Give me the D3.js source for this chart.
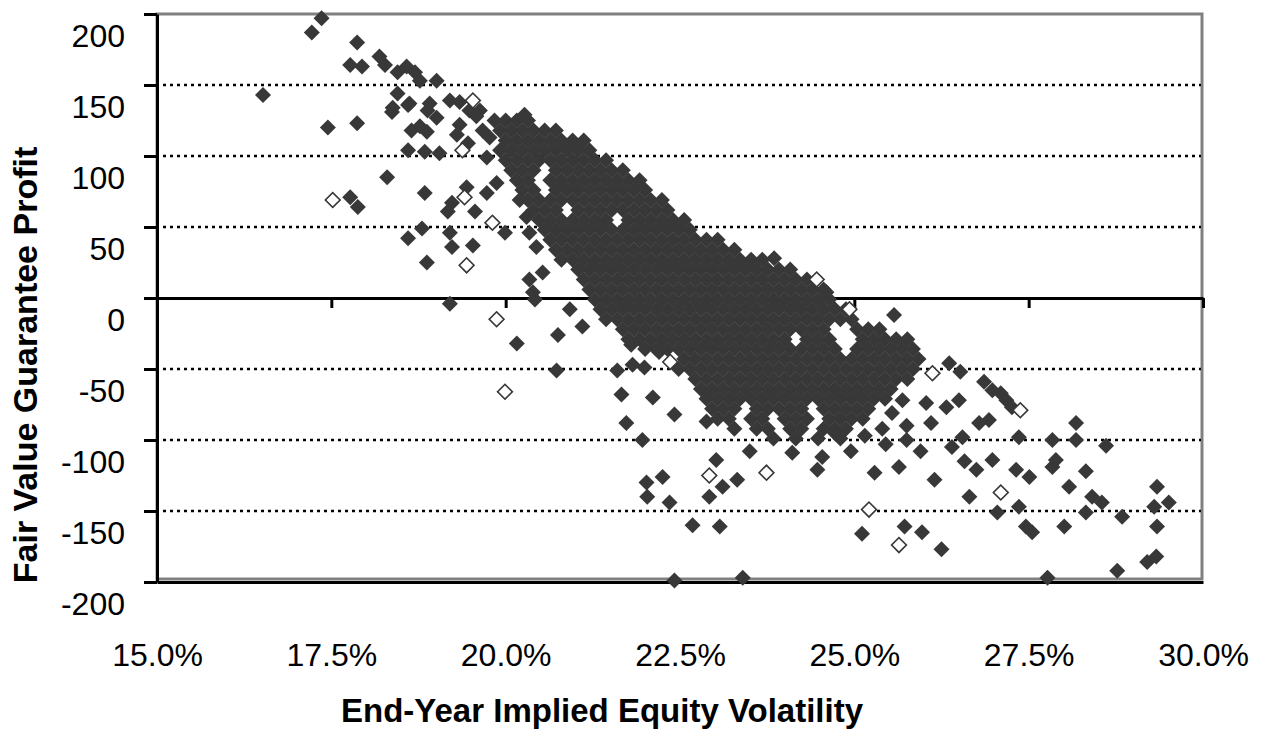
<!DOCTYPE html>
<html>
<head>
<meta charset="utf-8">
<script src="https://cdn.jsdelivr.net/npm/d3@7"></script>
<style>
  html, body { margin: 0; padding: 0; background: #fff; }
  svg { display: block; }
</style>
</head>
<body>
<div id="chart"></div>
<script>
// axis ticks
const xTicks = [15, 17.5, 20, 22.5, 25, 27.5, 30];
const yTicks = [200, 150, 100, 50, 0, -50, -100, -150, -200];
const gridValues = [150, 100, 50, -50, -100, -150];

// [volatility %, profit]: isolated filled diamonds
const filledPoints = [
  [16.52,143],[17.22,187],[17.36,197],[17.87,180],[17.77,164],[17.94,163],[18.19,170],[18.27,164],[18.45,159],[18.58,163],[18.70,159],[18.77,153],[19.01,153],
  [18.45,144],[18.38,134],[18.60,136],[18.37,131],[18.62,137],[18.91,137],[18.88,132],[19.01,127],[19.20,139],[19.34,138],[19.48,132],[19.63,132],[19.58,128],
  [17.45,120],[17.87,123],[18.65,118],[18.77,121],[18.87,117],[19.34,122],[19.30,115],[19.67,118],[19.77,113],[20.27,129],
  [18.60,104],[18.84,103],[19.05,102],[19.46,109],[19.73,99],
  [18.30,85],[17.77,71],[17.88,64],[18.84,74],[19.23,67],[19.17,61],[19.44,78],[19.56,61],[19.73,74],[19.87,81],[20.20,69],[20.30,57],
  [18.60,42],[18.80,49],[19.20,46],[19.23,36],[19.53,37],[19.99,46],[20.34,46],[20.44,36],[20.53,18],[20.34,13],[20.39,4],[20.42,-1],
  [18.87,25],[19.20,-4],[20.92,-8],[21.10,-20],[20.75,-26],[20.16,-32],[20.73,-51],
  [21.60,-51],[21.80,-33],[21.82,-47],[21.99,-49],[22.20,-38],[21.66,-68],[22.11,-70],[21.73,-88],[21.96,-100],[22.42,-82],[22.88,-87],
  [23.02,-114],[23.50,-108],[24.11,-109],[24.47,-121],[24.54,-112],[22.02,-130],[22.25,-126],[22.03,-140],[22.35,-144],[22.92,-140],[23.11,-133],[23.32,-128],
  [22.68,-160],[23.07,-161],[22.42,-199],[23.40,-197],
  [23.85,28],[24.60,4],[25.57,-12],
  [26.36,-46],[26.52,-52],[26.86,-59],[26.98,-65],[27.10,-67],[27.18,-72],[27.26,-77],
  [25.69,-72],[26.03,-74],[26.32,-77],[26.50,-72],[26.93,-86],[25.54,-81],[26.79,-88],
  [24.72,-95],[24.95,-108],[25.15,-97],[25.45,-103],[25.75,-100],[25.95,-108],[25.40,-92],[25.75,-90],[26.10,-88],
  [27.36,-98],[27.84,-100],[28.18,-88],[28.18,-100],[28.61,-104],[26.55,-98],[26.40,-105],[26.98,-114],[26.75,-121],[27.32,-121],[27.51,-126],[27.84,-119],[27.89,-114],[28.32,-122],
  [26.65,-140],[27.36,-147],[28.08,-133],[28.41,-140],[28.55,-144],[28.32,-151],[27.05,-151],[27.46,-161],[27.55,-165],[28.01,-161],[28.84,-154],
  [29.34,-133],[29.30,-147],[29.51,-144],[29.34,-161],[29.33,-182],[29.20,-186],[28.77,-192],[27.77,-197],
  [25.11,-166],[25.72,-161],[25.97,-165],[26.25,-177],[25.29,-123],[25.64,-119],[26.15,-128],[26.58,-115]
];

// hollow diamonds
const hollowPoints = [
  [17.52,69],[19.53,139],[19.38,104],[19.41,71],[19.81,53],[19.44,23],[19.87,-15],[19.99,-66],[22.36,-45],
  [22.92,-125],[23.74,-123],[24.46,13],[24.93,-8],[26.12,-53],[27.38,-79],[27.10,-137],[25.21,-149],[25.64,-174]
];

// the packed core of the cloud, read row by row: [profit, volatilities]
const denseRows = [
  [125, [19.84,20.00,20.16,20.32]],
  [118, [19.92,20.08,20.24,20.40,20.56,20.72]],
  [111, [20.00,20.16,20.32,20.48,20.64,20.80,20.96,21.12]],
  [104, [19.92,20.08,20.24,20.40,20.56,20.72,20.88,21.04,21.20]],
  [97,  [20.00,20.16,20.32,20.48,20.64,20.80,20.96,21.12,21.28,21.44]],
  [90,  [20.08,20.24,20.40,20.72,20.88,21.04,21.20,21.36,21.52,21.68]],
  [83,  [20.16,20.32,20.64,20.80,20.96,21.12,21.28,21.44,21.60,21.76,21.92]],
  [76,  [20.24,20.40,20.72,20.88,21.04,21.20,21.36,21.52,21.68,21.84,22.00]],
  [69,  [20.32,20.48,20.64,20.80,20.96,21.12,21.28,21.44,21.60,21.76,21.92,22.08,22.24]],
  [62,  [20.40,20.56,20.72,21.04,21.20,21.36,21.52,21.68,21.84,22.00,22.16,22.32]],
  [55,  [20.48,20.64,20.80,20.96,21.12,21.28,21.44,21.76,21.92,22.08,22.24,22.40,22.56]],
  [48,  [20.56,20.72,20.88,21.04,21.20,21.36,21.52,21.68,21.84,22.00,22.16,22.32,22.48,22.64]],
  [41,  [20.64,20.80,20.96,21.12,21.28,21.44,21.60,21.76,21.92,22.08,22.24,22.40,22.56,22.72,22.88,23.04]],
  [34,  [20.72,20.88,21.04,21.20,21.36,21.52,21.68,21.84,22.00,22.16,22.32,22.48,22.64,22.80,22.96,23.12,23.28]],
  [27,  [20.80,20.96,21.12,21.28,21.44,21.60,21.76,21.92,22.08,22.24,22.40,22.56,22.72,22.88,23.04,23.20,23.36,23.52,23.68]],
  [20,  [21.04,21.20,21.36,21.52,21.68,21.84,22.00,22.16,22.32,22.48,22.64,22.80,22.96,23.12,23.28,23.44,23.60,23.76,23.92,24.08]],
  [13,  [21.12,21.28,21.44,21.60,21.76,21.92,22.08,22.24,22.40,22.56,22.72,22.88,23.04,23.20,23.36,23.52,23.68,23.84,24.00,24.16,24.32]],
  [6,   [21.20,21.36,21.52,21.68,21.84,22.00,22.16,22.32,22.48,22.64,22.80,22.96,23.12,23.28,23.44,23.60,23.76,23.92,24.08,24.24,24.40,24.56]],
  [-1,  [21.28,21.44,21.60,21.76,21.92,22.08,22.24,22.40,22.56,22.72,22.88,23.04,23.20,23.36,23.52,23.68,23.84,24.00,24.16,24.32,24.48,24.64]],
  [-8,  [21.36,21.52,21.68,21.84,22.00,22.16,22.32,22.48,22.64,22.80,22.96,23.12,23.28,23.44,23.60,23.76,23.92,24.08,24.24,24.40,24.56,24.72,24.88]],
  [-15, [21.44,21.60,21.76,21.92,22.08,22.24,22.40,22.56,22.72,22.88,23.04,23.20,23.36,23.52,23.68,23.84,24.00,24.16,24.32,24.48,24.64,24.80,24.96]],
  [-22, [21.68,21.84,22.00,22.16,22.32,22.48,22.64,22.80,22.96,23.12,23.28,23.44,23.60,23.76,23.92,24.08,24.24,24.40,24.56,25.04,25.20,25.36]],
  [-29, [21.76,21.92,22.08,22.24,22.40,22.56,22.72,22.88,23.04,23.20,23.36,23.52,23.68,23.84,24.00,24.32,24.48,24.64,25.12,25.28,25.44,25.60,25.76]],
  [-36, [22.00,22.16,22.32,22.48,22.64,22.80,22.96,23.12,23.28,23.44,23.60,23.76,23.92,24.08,24.24,24.40,24.56,24.72,25.04,25.20,25.36,25.52,25.68,25.84]],
  [-43, [22.56,22.72,22.88,23.04,23.20,23.36,23.52,23.68,23.84,24.00,24.16,24.32,24.48,24.64,24.80,24.96,25.12,25.28,25.44,25.60,25.76,25.92]],
  [-50, [22.48,22.64,22.80,22.96,23.12,23.28,23.44,23.60,23.76,23.92,24.08,24.24,24.40,24.56,24.72,24.88,25.04,25.20,25.36,25.52,25.68,25.84]],
  [-57, [22.72,22.88,23.04,23.20,23.36,23.52,23.68,23.84,24.00,24.16,24.32,24.48,24.64,24.80,24.96,25.12,25.28,25.44,25.60,25.76]],
  [-64, [22.80,22.96,23.12,23.28,23.44,23.60,23.76,23.92,24.08,24.24,24.40,24.56,24.72,24.88,25.04,25.20,25.36,25.52]],
  [-71, [22.88,23.04,23.20,23.36,23.52,23.68,23.84,24.00,24.16,24.32,24.48,24.64,24.80,24.96,25.12,25.28,25.44]],
  [-78, [22.96,23.12,23.28,23.60,23.76,23.92,24.08,24.24,24.56,24.72,24.88,25.04,25.20]],
  [-85, [23.04,23.20,23.52,23.68,24.00,24.16,24.32,24.64,24.80,24.96,25.12]],
  [-92, [23.28,23.60,23.76,24.08,24.24,24.56,24.72,24.88]],
  [-99, [23.84,24.16,24.48,24.80]]
];

const points = filledPoints.concat(denseRows.flatMap(([p, vs]) => vs.map(v => [v, p])));

const W = 1261, H = 730;
const font = "'Liberation Sans', Arial, sans-serif";
const ink = "#383838";

const svg = d3.select("#chart")
    .append("svg")
    .attr("width", W)
    .attr("height", H)
    .style("background", "#fff");

// Scales
const x = d3.scaleLinear().domain([15, 30]).range([157, 1203]);
const y = d3.scaleLinear().domain([-200, 200]).range([582, 14]);

// plot area border (grey)
svg.append("rect")
    .attr("x", x(15))
    .attr("y", y(200))
    .attr("width", x(30) - x(15) - 1)
    .attr("height", y(-200) - y(200) - 3)
    .attr("fill", "none")
    .attr("stroke", "#808080")
    .attr("stroke-width", 3);

// dotted gridlines
svg.append("g")
    .selectAll("line")
    .data(gridValues)
    .join("line")
    .attr("x1", x(15) + 6)
    .attr("x2", x(30) - 2)
    .attr("y1", d => y(d))
    .attr("y2", d => y(d))
    .attr("stroke", "#000")
    .attr("stroke-width", 2.5)
    .attr("stroke-dasharray", "3,4");

// Axes
const yAxis = svg.append("g")
    .attr("transform", `translate(${x(15)},0)`)
    .call(d3.axisLeft(y).tickValues(yTicks).tickSize(13).tickSizeOuter(0).tickPadding(19).tickFormat(d => String(d)));
yAxis.select(".domain").attr("stroke", "#000").attr("stroke-width", 3);
yAxis.selectAll(".tick line").attr("stroke", "#000").attr("stroke-width", 3);
yAxis.selectAll(".tick text")
    .attr("dy", "1em")
    .style("font", `32px ${font}`)
    .attr("fill", "#000");

// axis through zero, ticks hanging down
const xAxis = svg.append("g")
    .attr("transform", `translate(0,${y(0)})`)
    .call(d3.axisBottom(x).tickValues(xTicks.slice(1)).tickSize(10).tickSizeOuter(0).tickFormat(""));
xAxis.select(".domain").attr("stroke", "#000").attr("stroke-width", 3);
xAxis.selectAll(".tick line").attr("stroke", "#000").attr("stroke-width", 3);

// bottom line at -200
const bottom = svg.append("g")
    .attr("transform", `translate(0,${y(-200)})`)
    .call(d3.axisBottom(x).tickValues([]).tickSizeOuter(0));
bottom.select(".domain").attr("stroke", "#000").attr("stroke-width", 3);

// x tick labels below the plot
const xLabels = svg.append("g")
    .attr("transform", "translate(0,643)")
    .call(d3.axisBottom(x).tickValues(xTicks).tickSize(0).tickPadding(0).tickFormat(d => d.toFixed(1) + "%"));
xLabels.select(".domain").remove();
xLabels.selectAll(".tick text")
    .style("font", `32px ${font}`)
    .attr("fill", "#000");

// Points
const diamond = d3.symbol().type(d3.symbolSquare).size(128)();
svg.append("g")
    .selectAll("path")
    .data(points)
    .join("path")
    .attr("d", diamond)
    .attr("transform", d => `translate(${x(d[0])},${y(d[1])}) rotate(45)`)
    .attr("fill", ink);

const hollowDiamond = d3.symbol().type(d3.symbolSquare).size(110)();
svg.append("g")
    .selectAll("path")
    .data(hollowPoints)
    .join("path")
    .attr("d", hollowDiamond)
    .attr("transform", d => `translate(${x(d[0])},${y(d[1])}) rotate(45)`)
    .attr("fill", "#fff")
    .attr("stroke", ink)
    .attr("stroke-width", 1.6);

// Labels
svg.append("text")
    .attr("transform", "translate(37,365) rotate(-90)")
    .attr("text-anchor", "middle")
    .style("font", `bold 34px ${font}`)
    .text("Fair Value Guarantee Profit");

svg.append("text")
    .attr("x", 602)
    .attr("y", 722)
    .attr("text-anchor", "middle")
    .style("font", `bold 33px ${font}`)
    .text("End-Year Implied Equity Volatility");
</script>
</body>
</html>
